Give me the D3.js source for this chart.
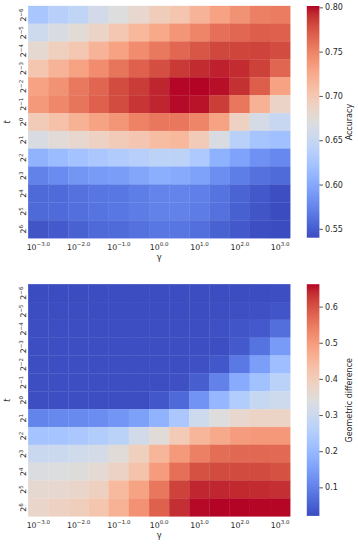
<!DOCTYPE html>
<html><head><meta charset="utf-8">
<script src="https://cdn.jsdelivr.net/npm/d3@7"></script>
<style>body{margin:0;background:#fff}svg{display:block;font-family:"DejaVu Sans",sans-serif}</style>
</head><body><svg id="c" width="358" height="545"></svg>
<script>
// ---- data ----
const gammaExps = [-3, -2.5, -2, -1.5, -1, -0.5, 0, 0.5, 1, 1.5, 2, 2.5, 3];
const gammaTicks = [-3, -2, -1, 0, 1, 2, 3];
const tExps = [-6, -5, -4, -3, -2, -1, 0, 1, 2, 3, 4, 5, 6];
const accuracyTicks = [0.55, 0.60, 0.65, 0.70, 0.75, 0.80];
const geomTicks = [0.1, 0.2, 0.3, 0.4, 0.5, 0.6];

const accuracy = [
  [0.626,0.638,0.645,0.660,0.671,0.681,0.694,0.702,0.718,0.731,0.741,0.752,0.754],
  [0.655,0.666,0.676,0.686,0.700,0.714,0.726,0.739,0.749,0.761,0.765,0.770,0.769],
  [0.679,0.692,0.700,0.718,0.731,0.745,0.756,0.765,0.774,0.781,0.782,0.783,0.779],
  [0.702,0.718,0.731,0.745,0.758,0.769,0.778,0.787,0.792,0.795,0.792,0.784,0.766],
  [0.731,0.741,0.756,0.766,0.779,0.786,0.794,0.801,0.8015,0.799,0.790,0.770,0.731],
  [0.736,0.747,0.758,0.769,0.779,0.788,0.794,0.800,0.798,0.785,0.757,0.720,0.686],
  [0.696,0.706,0.720,0.730,0.739,0.751,0.757,0.757,0.749,0.730,0.688,0.663,0.650],
  [0.666,0.675,0.681,0.688,0.696,0.701,0.710,0.714,0.696,0.666,0.639,0.624,0.620],
  [0.608,0.616,0.622,0.628,0.632,0.637,0.642,0.642,0.630,0.607,0.595,0.583,0.577],
  [0.573,0.579,0.586,0.590,0.591,0.598,0.604,0.601,0.594,0.581,0.570,0.562,0.558],
  [0.557,0.558,0.562,0.565,0.566,0.570,0.574,0.574,0.571,0.564,0.554,0.547,0.541],
  [0.557,0.558,0.561,0.564,0.566,0.569,0.573,0.573,0.569,0.562,0.552,0.545,0.540],
  [0.545,0.548,0.553,0.557,0.558,0.562,0.566,0.565,0.561,0.553,0.547,0.541,0.540]
];

const geomDiff = [
  [0.021,0.021,0.021,0.022,0.022,0.022,0.022,0.022,0.022,0.022,0.023,0.023,0.024],
  [0.022,0.022,0.022,0.022,0.022,0.023,0.023,0.023,0.023,0.024,0.025,0.027,0.034],
  [0.024,0.024,0.024,0.024,0.024,0.024,0.024,0.024,0.024,0.027,0.034,0.040,0.072],
  [0.024,0.024,0.024,0.024,0.024,0.024,0.024,0.024,0.024,0.024,0.040,0.079,0.143],
  [0.024,0.024,0.024,0.024,0.024,0.024,0.024,0.024,0.027,0.037,0.088,0.149,0.213],
  [0.024,0.024,0.024,0.024,0.024,0.024,0.024,0.027,0.047,0.101,0.172,0.220,0.265],
  [0.024,0.024,0.024,0.024,0.024,0.024,0.037,0.063,0.130,0.197,0.249,0.290,0.303],
  [0.104,0.111,0.114,0.120,0.133,0.152,0.188,0.236,0.303,0.342,0.367,0.380,0.380],
  [0.223,0.226,0.236,0.249,0.265,0.313,0.351,0.406,0.454,0.476,0.499,0.505,0.505],
  [0.297,0.300,0.309,0.322,0.351,0.393,0.454,0.502,0.540,0.566,0.572,0.572,0.569],
  [0.335,0.338,0.345,0.358,0.383,0.425,0.499,0.563,0.601,0.608,0.608,0.608,0.601],
  [0.361,0.364,0.374,0.390,0.444,0.486,0.553,0.617,0.643,0.643,0.641,0.638,0.636],
  [0.374,0.386,0.396,0.418,0.460,0.515,0.582,0.636,0.659,0.662,0.662,0.661,0.661]
];

// ---- coolwarm colormap (Moreland) ----
const coolwarmStops = [
  [59,76,192],[68,90,204],[77,104,215],[87,117,225],[98,130,234],[108,142,241],[119,154,247],
  [130,165,251],[141,176,254],[152,185,255],[163,194,255],[174,201,253],[184,208,249],[194,213,244],
  [204,217,238],[213,219,230],[221,221,221],[229,216,209],[236,211,197],[241,204,185],[245,196,173],
  [247,187,160],[247,177,148],[247,166,135],[244,154,123],[241,141,111],[236,127,99],[229,112,88],
  [222,96,77],[213,80,66],[203,62,56],[192,40,47],[180,4,38]
].map(c => d3.rgb(c[0], c[1], c[2]).toString());
const coolwarm = d3.piecewise(d3.interpolateRgb, coolwarmStops);

const svg = d3.select("#c");
const textColor = "#262626";
const sup = s => s.replace("-", "\u2212");

const panels = [
  {values: accuracy, label: "Accuracy", ticks: accuracyTicks, fmt: d3.format(".2f"), top: 6},
  {values: geomDiff, label: "Geometric difference", ticks: geomTicks, fmt: d3.format(".1f"), top: 284.2}
];

const left = 28.2, right = 290.2, H = 232.2;
const cbX = 306.8, cbW = 12.6;

panels.forEach((p, pi) => {
  const g = svg.append("g");
  const x = d3.scaleBand().domain(gammaExps).range([left, right]);
  const y = d3.scaleBand().domain(tExps).range([p.top, p.top + H]);
  const ext = d3.extent(p.values.flat());
  const color = d3.scaleSequential(coolwarm).domain(ext);

  const cells = [];
  p.values.forEach((row, ri) => row.forEach((v, ci) => cells.push({t: tExps[ri], g: gammaExps[ci], v})));
  g.append("g").selectAll("rect").data(cells).join("rect")
    .attr("x", d => x(d.g)).attr("y", d => y(d.t))
    .attr("width", x.bandwidth()).attr("height", y.bandwidth())
    .attr("fill", d => color(d.v))
    .attr("stroke", d => color(d.v)).attr("stroke-width", 0.3);

  // x axis
  const xa = g.append("g").attr("transform", `translate(0,${p.top + H})`)
    .call(d3.axisBottom(x).tickValues(gammaTicks).tickSize(0));
  xa.select(".domain").remove();
  xa.selectAll("text").each(function(d) {
    const t = d3.select(this).text(null).attr("y", 11.4).attr("dy", 0)
      .attr("fill", textColor).attr("font-size", 7.8).attr("font-family", "DejaVu Sans");
    t.append("tspan").text("10");
    t.append("tspan").attr("dy", -3.3).attr("font-size", 5.5).text(sup(d.toFixed(1)));
  });
  g.append("text").attr("x", (left + right) / 2).attr("y", p.top + H + 21.6)
    .attr("text-anchor", "middle").attr("font-size", 8.3).attr("fill", textColor).text("\u03b3");

  // y axis
  const ya = g.append("g").attr("transform", `translate(${left},0)`)
    .call(d3.axisLeft(y).tickSize(0));
  ya.select(".domain").remove();
  ya.selectAll("text").each(function(d) {
    const t = d3.select(this).text(null).attr("x", 0).attr("y", -1.9).attr("dy", 0)
      .attr("transform", "rotate(-90)").attr("text-anchor", "middle")
      .attr("fill", textColor).attr("font-size", 7.8).attr("font-family", "DejaVu Sans");
    t.append("tspan").text("2");
    t.append("tspan").attr("dy", -3.3).attr("font-size", 5.5).text(sup(String(d)));
  });
  g.append("text").attr("transform", `translate(10.2,${p.top + H / 2}) rotate(-90)`)
    .attr("text-anchor", "middle").attr("font-size", 8.3).attr("font-style", "italic")
    .attr("fill", textColor).text("t");

  // colorbar
  const gid = "grad" + pi;
  const grad = svg.append("defs").append("linearGradient").attr("id", gid)
    .attr("x1", 0).attr("y1", 1).attr("x2", 0).attr("y2", 0);
  d3.range(0, 1.0001, 1 / 32).forEach(f => grad.append("stop").attr("offset", f).attr("stop-color", coolwarm(f)));
  const cy = d3.scaleLinear().domain(ext).range([p.top + H - 0.5, p.top]);
  g.append("rect").attr("x", cbX).attr("y", p.top).attr("width", cbW).attr("height", H - 0.5)
    .attr("fill", `url(#${gid})`);
  const ca = g.append("g").attr("transform", `translate(${cbX + cbW},0)`)
    .call(d3.axisRight(cy).tickValues(p.ticks).tickFormat(p.fmt).tickSize(3.5).tickPadding(2.2));
  ca.select(".domain").remove();
  ca.selectAll("line").attr("stroke", textColor).attr("stroke-width", 0.8);
  ca.selectAll("text").attr("fill", textColor).attr("font-size", 8).attr("font-family", "DejaVu Sans");
  g.append("text").attr("transform", `translate(352,${p.top + H / 2}) rotate(-90)`)
    .attr("text-anchor", "middle").attr("font-size", 8).attr("fill", textColor).text(p.label);
});
</script>
</body></html>
